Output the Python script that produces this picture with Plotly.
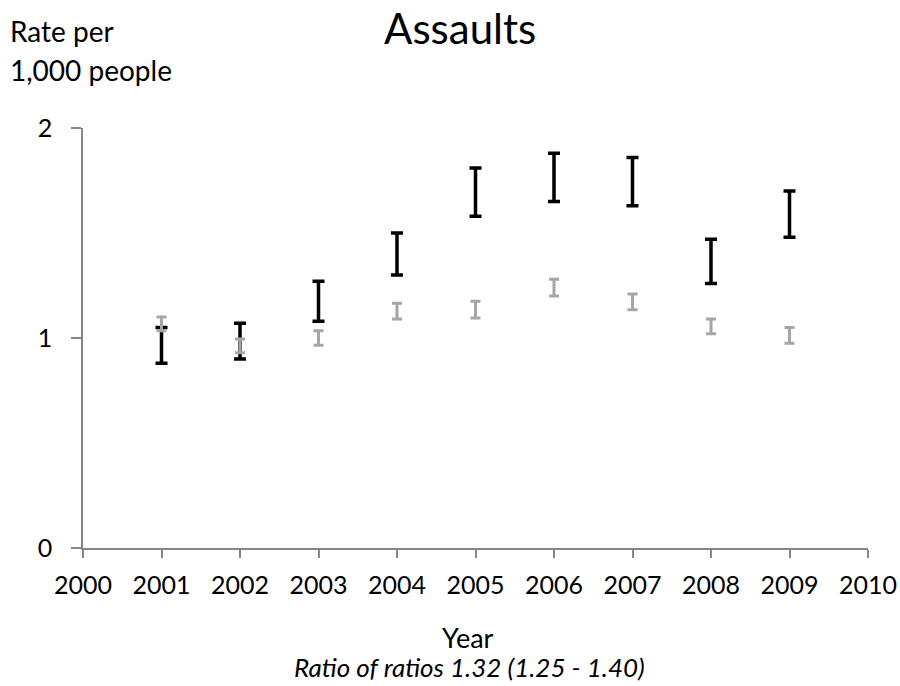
import plotly.graph_objects as go

years = [2001, 2002, 2003, 2004, 2005, 2006, 2007, 2008, 2009]
black_low = [0.88, 0.90, 1.08, 1.30, 1.58, 1.65, 1.63, 1.26, 1.48]
black_high = [1.05, 1.07, 1.27, 1.50, 1.81, 1.88, 1.86, 1.47, 1.70]
gray_low = [1.035, 0.93, 0.965, 1.09, 1.095, 1.20, 1.135, 1.02, 0.975]
gray_high = [1.10, 0.995, 1.035, 1.165, 1.175, 1.28, 1.21, 1.09, 1.05]

x_ticks = [2000, 2001, 2002, 2003, 2004, 2005, 2006, 2007, 2008, 2009, 2010]
y_ticks = [0, 1, 2]

FONT = "Lato"


def mid_err(lo, hi):
    mid = [(a + b) / 2 for a, b in zip(lo, hi)]
    err = [(b - a) / 2 for a, b in zip(lo, hi)]
    return mid, err


b_mid, b_err = mid_err(black_low, black_high)
g_mid, g_err = mid_err(gray_low, gray_high)

fig = go.Figure()
fig.add_trace(go.Scatter(
    x=years, y=b_mid, mode="markers",
    marker=dict(size=1, color="rgba(0,0,0,0)"),
    error_y=dict(type="data", array=b_err, symmetric=True,
                 color="black", thickness=3.5, width=6),
    showlegend=False, hoverinfo="skip"))
fig.add_trace(go.Scatter(
    x=years, y=g_mid, mode="markers",
    marker=dict(size=1, color="rgba(0,0,0,0)"),
    error_y=dict(type="data", array=g_err, symmetric=True,
                 color="#A6A6A6", thickness=3, width=5),
    showlegend=False, hoverinfo="skip"))

axis_color = "#868686"
fig.update_layout(
    width=900, height=686,
    margin=dict(l=83, r=32, t=128, b=138, autoexpand=False),
    paper_bgcolor="white", plot_bgcolor="white",
    font=dict(family=FONT, color="black", size=25),
    xaxis=dict(range=[2000, 2010], tickvals=x_ticks, ticktext=[str(v) for v in x_ticks],
               automargin=False,
               showgrid=False, zeroline=False, showline=True, linecolor=axis_color, linewidth=1.5,
               ticks="outside", ticklen=8, tickcolor=axis_color, tickwidth=1.5,
               tickfont=dict(family=FONT, size=25, color="black"), ticklabelstandoff=6),
    yaxis=dict(range=[0, 2], tickvals=y_ticks, ticktext=[str(v) for v in y_ticks],
               automargin=False,
               showgrid=False, zeroline=False, showline=True, linecolor=axis_color, linewidth=1.5,
               ticks="outside", ticklen=10, tickcolor=axis_color, tickwidth=1.5,
               tickfont=dict(family=FONT, size=25, color="black"), ticklabelstandoff=14),
    annotations=[
        dict(text="Assaults", x=0.48, y=1.238, xref="paper", yref="paper",
             xanchor="center", yanchor="middle", showarrow=False,
             font=dict(family=FONT, size=42, color="black")),
        dict(text="Rate per", x=-0.096, y=1.231, xref="paper", yref="paper",
             xanchor="left", yanchor="middle", showarrow=False,
             font=dict(family=FONT, size=28, color="black")),
        dict(text="1,000 people", x=-0.096, y=1.138, xref="paper", yref="paper",
             xanchor="left", yanchor="middle", showarrow=False,
             font=dict(family=FONT, size=28, color="black")),
        dict(text="Year", x=0.491, y=-0.212, xref="paper", yref="paper",
             xanchor="center", yanchor="middle", showarrow=False,
             font=dict(family=FONT, size=27, color="black")),
        dict(text="<i>Ratio of ratios 1.32 (1.25 - 1.40)</i>", x=0.4926, y=-0.283,
             xref="paper", yref="paper", xanchor="center", yanchor="middle", showarrow=False,
             font=dict(family=FONT, size=26, color="black")),
    ],
)

fig.write_html("out.html", config={"displayModeBar": False},
               post_script="document.body.style.margin='0';")
